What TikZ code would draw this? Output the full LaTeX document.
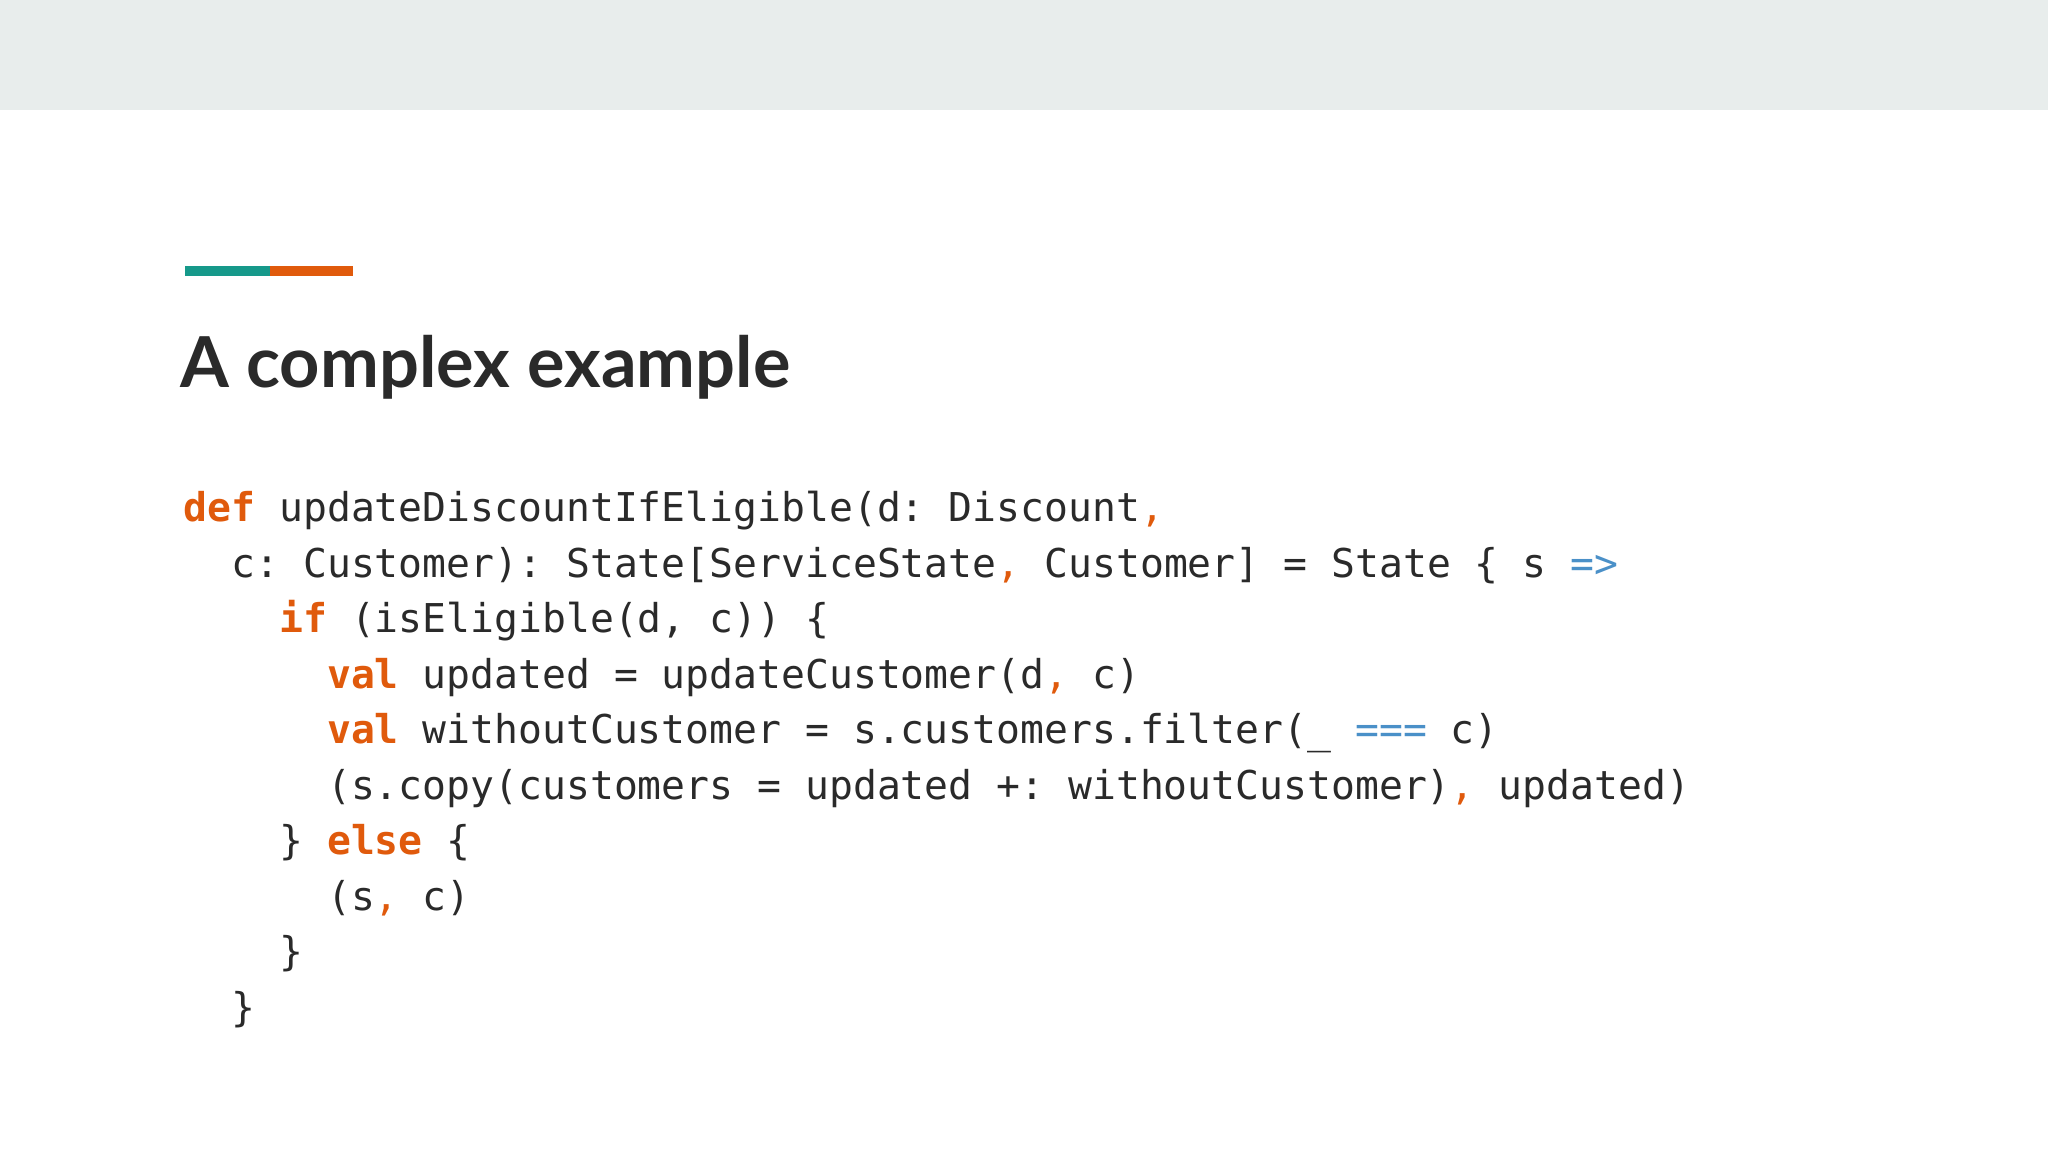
\documentclass[tikz,border=0pt]{standalone}
\usepackage{fontspec}
\setmainfont{Lato}
\setmonofont{DejaVu Sans Mono}
\definecolor{band}{HTML}{E8EDEC}
\definecolor{teal}{HTML}{16998A}
\definecolor{kw}{HTML}{E05A0C}
\definecolor{op}{HTML}{4A90C8}
\definecolor{txt}{HTML}{2A2A2A}
\newcommand{\kw}[1]{\textcolor{kw}{\bfseries #1}}
\newcommand{\opx}[1]{\textcolor{op}{#1}}
\tikzset{codeline/.style={anchor=base west,inner sep=0pt,font=\ttfamily\fontsize{11.3}{13}\selectfont,text=txt}}
\begin{document}
\begin{tikzpicture}[x=1cm,y=1cm]
\useasboundingbox (0,0) rectangle (20.48,11.52);
\fill[white] (0,0) rectangle (20.48,11.52);
\fill[band] (0,10.42) rectangle (20.48,11.52);
\fill[teal] (1.85,8.76) rectangle (2.70,8.86);
\fill[kw] (2.70,8.76) rectangle (3.53,8.86);
\node[anchor=base west,inner sep=0pt,text=txt,font=\bfseries\fontsize{20}{24}\selectfont] (title) at (1.80,7.64) {A complex example};
\node[codeline] (l1) at (1.83,6.30) {\kw{def} updateDiscountIfEligible(d: Discount\textcolor{kw}{,}};
\node[codeline] (l2) at (1.83,5.745) {\ \ c: Customer): State[ServiceState\textcolor{kw}{,} Customer] = State \{ s \opx{=>}};
\node[codeline] (l3) at (1.83,5.19) {\ \ \ \ \kw{if} (isEligible(d, c)) \{};
\node[codeline] (l4) at (1.83,4.635) {\ \ \ \ \ \ \kw{val} updated = updateCustomer(d\textcolor{kw}{,} c)};
\node[codeline] (l5) at (1.83,4.08) {\ \ \ \ \ \ \kw{val} withoutCustomer = s.customers.filter(\_ \opx{===} c)};
\node[codeline] (l6) at (1.83,3.525) {\ \ \ \ \ \ (s.copy(customers = updated +: withoutCustomer)\textcolor{kw}{,} updated)};
\node[codeline] (l7) at (1.83,2.97) {\ \ \ \ \} \kw{else} \{};
\node[codeline] (l8) at (1.83,2.415) {\ \ \ \ \ \ (s\textcolor{kw}{,} c)};
\node[codeline] (l9) at (1.83,1.86) {\ \ \ \ \}};
\node[codeline] (l10) at (1.83,1.305) {\ \ \}};
\end{tikzpicture}
\end{document}
